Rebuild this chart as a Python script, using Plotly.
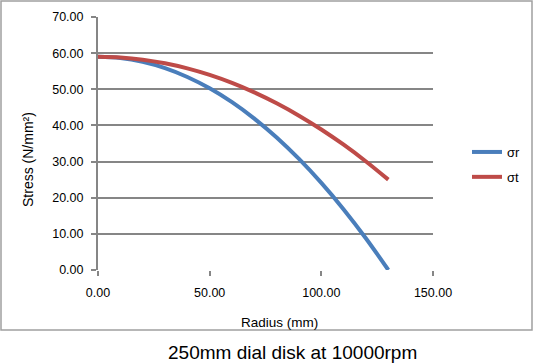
import plotly.graph_objects as go

radius = [0, 10, 20, 30, 40, 50, 60, 70, 80, 90, 100, 110, 120, 130]
sigma_r = [59.00, 58.65, 57.60, 55.86, 53.41, 50.27, 46.43, 41.89, 36.66, 30.72, 24.09, 16.76, 8.73, 0.00]
sigma_t = [59.00, 58.80, 58.20, 57.19, 55.78, 53.97, 51.76, 49.14, 46.12, 42.70, 38.88, 34.66, 30.03, 25.00]
series_names = ["σr", "σt"]
title_text = "250mm dial disk at 10000rpm"
x_title = "Radius (mm)"
y_title = "Stress (N/mm²)"

GRID = "#868686"
FONT = "Liberation Sans"

fig = go.Figure()
fig.add_trace(go.Scatter(x=radius, y=sigma_r, mode="lines", name=series_names[0],
                         line=dict(color="#4A7EBB", width=4, shape="spline"), legendgroup="a"))
fig.add_trace(go.Scatter(x=radius, y=sigma_t, mode="lines", name=series_names[1],
                         line=dict(color="#BE4B48", width=4, shape="spline"), legendgroup="b"))

W, H = 533, 364
L, R, T, B = 98, 100, 17, 94
pw, ph = W - L - R, H - T - B

def px(x):
    return (x - L) / pw

def py(y):
    return (H - B - y) / ph

fig.update_layout(
    width=W, height=H,
    margin=dict(l=L, r=R, t=T, b=B, pad=0, autoexpand=False),
    paper_bgcolor="white", plot_bgcolor="white",
    font=dict(family=FONT, size=12, color="black"),
    showlegend=True,
    legend=dict(x=px(467), y=py(137), xanchor="left", yanchor="top",
                font=dict(family=FONT, size=13), itemwidth=30,
                tracegroupgap=5, bgcolor="rgba(0,0,0,0)"),
    xaxis=dict(range=[0, 150], dtick=50, tick0=0, tickformat=".2f",
               showgrid=False, showline=False, zeroline=False,
               ticks="outside", ticklen=5, tickwidth=2, tickcolor=GRID,
               ticklabelstandoff=6, automargin=False,
               tickfont=dict(family=FONT, size=12.5), fixedrange=True),
    yaxis=dict(range=[0, 70], dtick=10, tick0=0, tickformat=".2f",
               showgrid=True, gridcolor=GRID, gridwidth=2,
               showline=True, linecolor=GRID, linewidth=2,
               zeroline=False, automargin=False,
               ticks="outside", ticklen=5, tickwidth=2, tickcolor=GRID,
               ticklabelstandoff=5,
               tickfont=dict(family=FONT, size=12.5), fixedrange=True),
    shapes=[dict(type="rect", xref="paper", yref="paper",
                 x0=px(1), x1=px(532), y0=py(330), y1=py(1),
                 line=dict(color="#A0A0A0", width=1.5), fillcolor="rgba(0,0,0,0)",
                 layer="below")],
    annotations=[
        dict(text=title_text, xref="paper", yref="paper", x=px(292), y=py(352),
             showarrow=False, font=dict(family=FONT, size=19), xanchor="center", yanchor="middle",
             borderpad=0),
        dict(text=x_title, xref="paper", yref="paper", x=px(279), y=py(322),
             showarrow=False, font=dict(family=FONT, size=13.5), xanchor="center", yanchor="middle"),
        dict(text=y_title, xref="paper", yref="paper", x=px(28), y=py(160),
             showarrow=False, textangle=-90, font=dict(family=FONT, size=14),
             xanchor="center", yanchor="middle"),
    ],
)

fig.write_html("out.html")
